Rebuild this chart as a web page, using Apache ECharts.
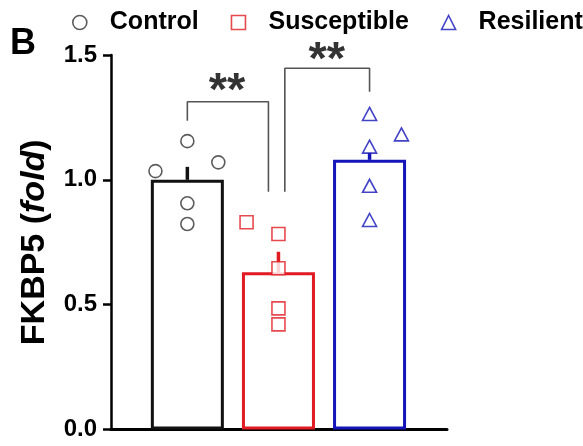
<!DOCTYPE html>
<html>
<head>
<meta charset="utf-8">
<script src="https://cdn.jsdelivr.net/npm/echarts@6/dist/echarts.min.js"></script>
<style>
  html, body { margin: 0; padding: 0; background: #fff; }
  #chart { width: 583px; height: 446px; }
</style>
</head>
<body>
<div id="chart"></div>
<script>
// groups, bar means and top of the SEM whisker
const groups = ['Control', 'Susceptible', 'Resilient'];
const means = [1.0, 0.63, 1.08];
const semTops = [1.052, 0.712, 1.109];
const colors = ['#111111', '#e01b22', '#1414b8'];
const symbols = ['circle', 'rect', 'triangle'];

// individual animals (x offset inside the group, value)
const controlPts = [[-0.35, 1.035], [0, 1.155], [0.34, 1.07], [0, 0.906], [0, 0.823]];
const susceptiblePts = [[-0.35, 0.83], [0, 0.783], [0, 0.646], [0, 0.485], [0, 0.421]];
const resilientPts = [[0, 1.264], [0.35, 1.182], [0, 1.133], [0, 0.976], [0, 0.839]];
const points = [controlPts, susceptiblePts, resilientPts];

const yTicks = [0, 0.5, 1.0, 1.5];

// significance brackets
const brackets = [
    { from: 0, to: 0.89, legFrom: 1.237, top: 1.313, legTo: 0.952, star: [0.436, 1.388] },
    { from: 1.07, to: 2, legFrom: 0.952, top: 1.447, legTo: 1.353, star: [1.53, 1.513] }
];
const starText = '**';

const font = 'Liberation Sans, Arial, sans-serif';
const chart = echarts.init(document.getElementById('chart'));

let series = [];

// bars
series.push({
    type: 'bar',
    name: 'mean',
    barWidth: 73,
    z: 2,
    silent: true,
    data: means.map((m, i) => ({
        value: [i, m],
        itemStyle: { color: 'rgba(255,255,255,0)', borderColor: colors[i], borderWidth: 3 }
    }))
});

// error bars (upper half only)
series.push({
    type: 'custom',
    name: 'sem',
    z: 3,
    silent: true,
    data: means.map((m, i) => [i, m, semTops[i]]),
    encode: { x: 0, y: [1, 2] },
    renderItem: function (params, api) {
        let i = params.dataIndex;
        let p0 = api.coord([api.value(0), api.value(1)]);
        let p1 = api.coord([api.value(0), api.value(2)]);
        return {
            type: 'line',
            shape: { x1: p0[0], y1: p0[1], x2: p1[0], y2: p1[1] },
            style: { stroke: colors[i], lineWidth: 3.5 }
        };
    }
});

// dots
groups.forEach((g, i) => {
    series.push({
        type: 'scatter',
        name: g,
        symbol: symbols[i],
        symbolSize: i === 2 ? [14, 13] : 13,
        z: 4,
        itemStyle: { color: '#fff', borderColor: i === 0 ? '#333' : colors[i], borderWidth: 1.6 },
        data: points[i].map(p => [i + p[0], p[1]])
    });
});

// brackets
brackets.forEach(b => {
    series.push({
        type: 'line',
        silent: true,
        symbol: 'none',
        z: 1,
        lineStyle: { color: '#555', width: 1.6 },
        data: [[b.from, b.legFrom], [b.from, b.top], [b.to, b.top], [b.to, b.legTo]]
    });
});

// stars
series.push({
    type: 'scatter',
    silent: true,
    clip: false,
    symbolSize: 0,
    z: 5,
    label: {
        show: true,
        position: 'inside',
        formatter: starText,
        fontSize: 47,
        fontWeight: 'bold',
        fontFamily: font,
        color: '#000',
        offset: [0, 9]
    },
    data: brackets.map(b => b.star)
});

const option = {
    animation: false,
    backgroundColor: '#fff',
    title: {
        text: 'B',
        left: 5,
        top: 21,
        textStyle: { fontSize: 36, fontWeight: 'bold', color: '#000', fontFamily: font }
    },
    legend: {
        left: 72,
        top: 10,
        width: 520,
        padding: 0,
        itemWidth: 14,
        itemHeight: 14,
        itemGap: 32,
        selectedMode: false,
        textStyle: {
            fontSize: 25, fontWeight: 'bold', color: '#000', fontFamily: font,
            padding: [0, 0, 0, 18]
        },
        data: groups.map((g, i) => ({
            name: g,
            icon: symbols[i],
            itemStyle: { color: '#fff', borderColor: i === 0 ? '#333' : colors[i], borderWidth: 1.6 }
        }))
    },
    grid: { left: 111, right: 136, top: 55, bottom: 16.5 },
    xAxis: {
        type: 'value',
        min: -0.838,
        max: 2.85,
        axisLine: { show: true, onZero: false, lineStyle: { color: '#000', width: 3 } },
        axisTick: { show: false },
        axisLabel: { show: false },
        splitLine: { show: false }
    },
    yAxis: {
        type: 'value',
        min: 0,
        max: 1.5,
        interval: 0.5,
        name: '{b|FKBP5 (}{i|fold}{b|)}',
        nameLocation: 'middle',
        nameGap: 59,
        nameRotate: 90,
        nameTextStyle: {
            rich: {
                b: { fontSize: 34, fontWeight: 'bold', color: '#000', fontFamily: font },
                i: { fontSize: 34, fontWeight: 'bold', fontStyle: 'italic', color: '#000', fontFamily: font }
            }
        },
        axisLine: { show: true, onZero: false, lineStyle: { color: '#000', width: 2.5 } },
        axisTick: { show: true, length: 8, lineStyle: { color: '#000', width: 2.5 } },
        axisLabel: {
            margin: 14,
            fontSize: 24,
            fontWeight: 'bold',
            color: '#000',
            fontFamily: font,
            formatter: v => yTicks.indexOf(v) >= 0 ? v.toFixed(1) : ''
        },
        splitLine: { show: false }
    },
    series: series
};

chart.setOption(option);
</script>
</body>
</html>
